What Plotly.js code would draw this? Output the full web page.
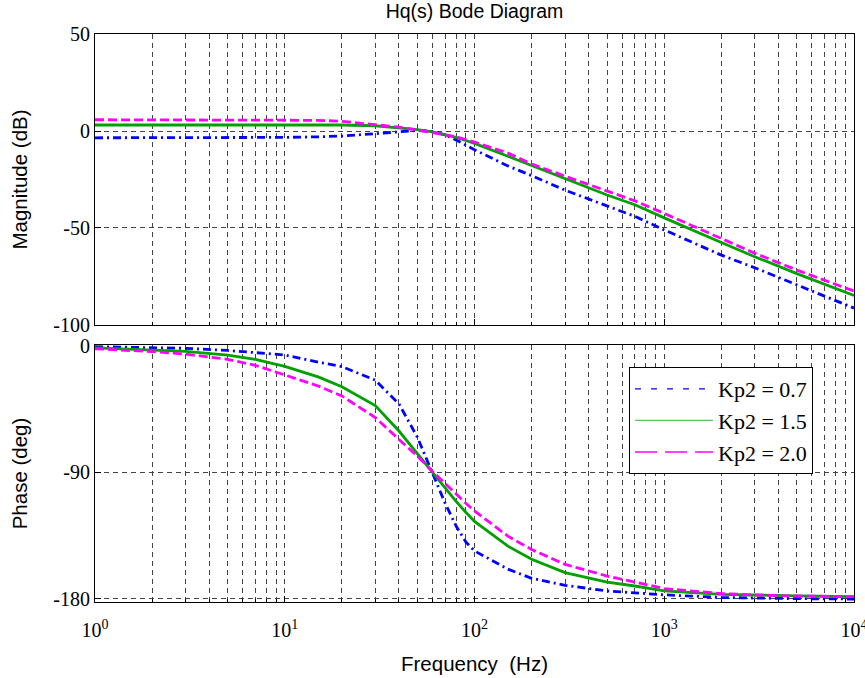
<!DOCTYPE html>
<html><head><meta charset="utf-8">
<script src="https://cdn.plot.ly/plotly-3.0.1.min.js"></script>
<style>body{margin:0;background:#fff}#chart{width:865px;height:678px}</style>
</head><body><div id="chart"></div>
<script>
// Frequency samples (Hz)
const freq = [1,2,3,5,7,10,15,20,30,40,50,60,70,80,90,100,150,200,300,500,700,1000,2000,3000,5000,10000];

// Magnitude (dB)
const magKp07 = [-3.5,-3.5,-3.5,-3.5,-3.4,-3.3,-3.0,-2.6,-1.4,-0.3,0.3,-0.2,-2.0,-4.6,-7.2,-9.7,-18.0,-23.0,-30.5,-38.5,-44.0,-51.0,-64.0,-70.5,-79.3,-91.3];
const magKp15 = [3.1,3.1,3.1,3.1,3.1,3.1,3.1,3.1,2.7,1.7,0.7,-0.5,-1.8,-3.3,-4.9,-6.4,-13.0,-17.8,-24.8,-33.0,-38.0,-44.8,-57.5,-64.8,-73.5,-84.8];
const magKp20 = [5.8,5.8,5.8,5.8,5.7,5.7,5.5,5.0,3.4,2.0,0.5,-0.8,-1.9,-3.0,-4.4,-5.7,-11.4,-17.0,-23.3,-30.9,-36.0,-42.5,-55.5,-63.0,-71.7,-82.5];

// Phase (deg)
const phKp07 = [-0.5,-1.0,-1.7,-3.2,-4.5,-6.4,-11.5,-14.7,-24.4,-41.3,-65,-91,-112,-128.3,-139.6,-146,-159,-165.5,-170.5,-174.5,-176,-177.3,-179.2,-179.7,-180,-180.3];
const phKp15 = [-1.3,-2.7,-3.8,-6.5,-9.5,-14.5,-22,-29,-42.5,-60.6,-76.6,-90.5,-101.2,-110.7,-118.5,-125,-142.6,-152,-161.5,-168.2,-171,-174.5,-176.9,-177.6,-178.1,-178.6];
const phKp20 = [-2.0,-4.0,-5.8,-9.5,-13.8,-20.5,-28.5,-35.6,-51,-66.6,-78.5,-89.3,-97.6,-105.5,-112,-117.5,-135.5,-145,-155.6,-163.9,-168.2,-172.8,-176.4,-177.4,-178.1,-178.6];

const seriesNames = ['Kp2 = 0.7','Kp2 = 1.5','Kp2 = 2.0'];

// Axis ticks
const xTickVals = [1,10,100,1000,10000];
const xTickText = ['10<sup>0</sup>','10<sup>1</sup>','10<sup>2</sup>','10<sup>3</sup>','10<sup>4</sup>'];
const magTickVals = [50,0,-50,-100];
const magTickText = ['50','0','-50','-100'];
const phTickVals = [0,-90,-180];
const phTickText = ['0','-90','-180'];

const minorVals = [];
for (const dec of [1,10,100,1000]) for (let d = 2; d <= 9; d++) minorVals.push(d*dec);

const cBlue = '#0000ff', cGreen = '#00a000', cMag = '#ff00ff';
const dBlue = '8px,4px,2px,4px', dMag = '9px,4px';
const LW = 2.8;

function tr(y, color, dash, xa, ya) {
  return {x: freq, y: y, type: 'scatter', mode: 'lines', xaxis: xa, yaxis: ya,
    line: {color: color, width: LW, dash: dash}, showlegend: false, hoverinfo: 'skip'};
}
function leg(name, color, dash) {
  return {x: [null], y: [null], type: 'scatter', mode: 'lines', xaxis: 'x2', yaxis: 'y2',
    name: name, line: {color: color, width: 1.3, dash: dash}, showlegend: true};
}

const data = [
  tr(magKp07, cBlue, dBlue, 'x', 'y'),
  tr(magKp15, cGreen, 'solid', 'x', 'y'),
  tr(magKp20, cMag, dMag, 'x', 'y'),
  tr(phKp07, cBlue, dBlue, 'x2', 'y2'),
  tr(phKp15, cGreen, 'solid', 'x2', 'y2'),
  tr(phKp20, cMag, dMag, 'x2', 'y2'),
  leg(seriesNames[0], cBlue, '6px,10px'),
  leg(seriesNames[1], '#5cc45c', 'solid'),
  leg(seriesNames[2], cMag, '22px,8px')
];

const tickFont = {family: 'Liberation Serif, Times New Roman, serif', size: 20, color: '#000'};
const labFont = {family: 'Liberation Sans, Arial, sans-serif', size: 20.5, color: '#000'};
const gridStyle = {gridcolor: '#444', griddash: '5px,4px', gridwidth: 1};

const xBase = Object.assign({
  type: 'log', range: [0, 4], tickmode: 'array', tickvals: xTickVals, ticktext: xTickText,
  showline: true, linecolor: '#000', linewidth: 1, mirror: true,
  ticks: 'inside', ticklen: 6, tickcolor: '#000', showgrid: true, zeroline: false,
  tickfont: tickFont, ticklabeloverflow: 'allow',
  minor: {tickmode: 'array', tickvals: minorVals, showgrid: true, gridcolor: '#444', griddash: '5px,4px',
          ticks: 'inside', ticklen: 3, tickcolor: '#000'}
}, gridStyle);

const layout = {
  width: 865, height: 678,
  margin: {l: 95, r: 11, t: 34, b: 76},
  paper_bgcolor: '#fff', plot_bgcolor: '#fff',
  title: {text: 'Hq(s) Bode Diagram', font: {family: 'Liberation Sans, Arial, sans-serif', size: 19.5, color: '#000'},
          x: 0.5, xref: 'paper', xanchor: 'center', y: 1 - 11/678, yref: 'container', yanchor: 'middle'},
  xaxis: Object.assign({}, xBase, {anchor: 'y', matches: 'x2', showticklabels: false}),
  xaxis2: Object.assign({}, xBase, {anchor: 'y2', ticklabelstandoff: 10,
    title: {text: 'Frequency\u00a0\u00a0(Hz)', font: labFont, standoff: 16}}),
  yaxis: Object.assign({
    domain: [0.4877, 1], range: [-100, 50], tickmode: 'array', tickvals: magTickVals, ticktext: magTickText,
    showline: true, linecolor: '#000', linewidth: 1, mirror: true, ticks: 'inside', ticklen: 6, tickcolor: '#000',
    zeroline: false, tickfont: tickFont,
    title: {text: 'Magnitude (dB)', font: labFont, standoff: 20}
  }, gridStyle),
  yaxis2: Object.assign({
    domain: [0, 0.4525], range: [-182.4, 0.7], tickmode: 'array', tickvals: phTickVals, ticktext: phTickText,
    showline: true, linecolor: '#000', linewidth: 1, mirror: true, ticks: 'inside', ticklen: 6, tickcolor: '#000',
    zeroline: false, tickfont: tickFont,
    title: {text: 'Phase (deg)', font: labFont, standoff: 20}
  }, gridStyle),
  legend: {x: 0.7036, y: 0.4137, xanchor: 'left', yanchor: 'top', xref: 'paper', yref: 'paper',
    bgcolor: '#fff', bordercolor: '#000', borderwidth: 1, itemwidth: 78,
    font: {family: 'Liberation Serif, Times New Roman, serif', size: 22, color: '#000'}},
  showlegend: true
};

Plotly.newPlot('chart', data, layout, {displayModeBar: false, staticPlot: true});
</script>
</body></html>
